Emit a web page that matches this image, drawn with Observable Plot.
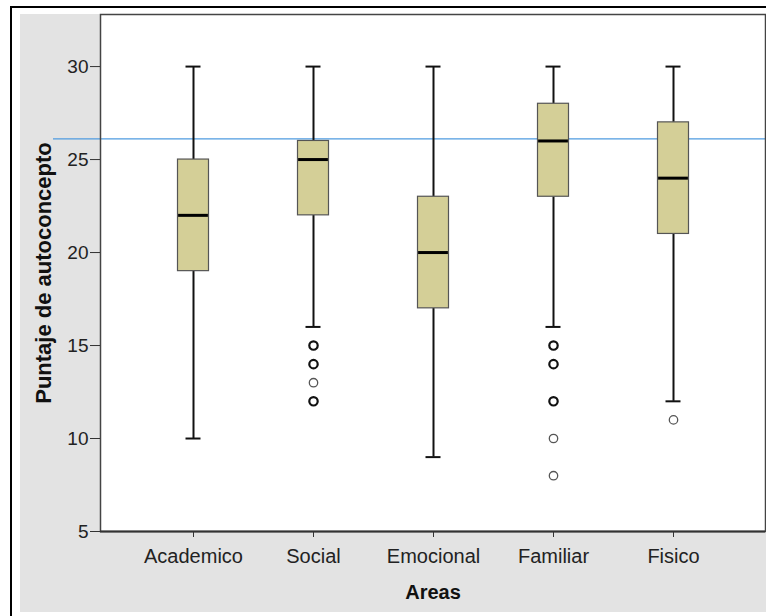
<!DOCTYPE html>
<html>
<head>
<meta charset="utf-8">
<script src="https://cdn.jsdelivr.net/npm/d3@7"></script>
<script src="https://cdn.jsdelivr.net/npm/@observablehq/plot@0.6"></script>
<style>
  html, body { margin: 0; padding: 0; background: #fff; }
  #wrap { position: relative; width: 766px; height: 616px; overflow: hidden; font-family: "Liberation Sans", Arial, sans-serif; }
  #outer { position: absolute; left: 10px; top: 6px; width: 770px; height: 620px; border-left: 2px solid #000; border-top: 2px solid #000; }
  #gray { position: absolute; left: 20px; top: 14px; right: 0; height: 598px; background: #e3e3e3; }
  #chart { position: absolute; left: 0; top: 0; }
</style>
</head>
<body>
<div id="wrap">
  <div id="outer"></div>
  <div id="gray"></div>
  <div id="chart"></div>
</div>
<script>
// Categories and summary statistics
const areas      = ["Academico", "Social", "Emocional", "Familiar", "Fisico"];
const whiskerLow = [10, 16, 9, 16, 12];
const q1         = [19, 22, 17, 23, 21];
const median     = [22, 25, 20, 26, 24];
const q3         = [25, 26, 23, 28, 27];
const whiskerHigh= [30, 30, 30, 30, 30];

// Outliers (bold = several cases at the same value)
const outlierArea  = ["Social", "Social", "Social", "Social",
                      "Familiar", "Familiar", "Familiar", "Familiar", "Familiar",
                      "Fisico"];
const outlierValue = [15, 14, 13, 12, 15, 14, 12, 10, 8, 11];
const outlierBold  = [true, true, false, true, true, true, true, false, false, false];

const referenceValue = 26.11;
const yTicks = [5, 10, 15, 20, 25, 30];

const boxes = areas.map((a, i) => ({
  area: a, lo: whiskerLow[i], q1: q1[i], med: median[i], q3: q3[i], hi: whiskerHigh[i]
}));
const outliers = outlierArea.map((a, i) => ({area: a, value: outlierValue[i], bold: outlierBold[i]}));

const W = 766, H = 616;
const mL = 100, mT = 14, mR = 1, mB = 85;
const bandW = 120, boxW = 31, capW = 15;
const boxInset = (bandW - boxW) / 2;
const capInset = (bandW - capW) / 2;

const chart = Plot.plot({
  width: W, height: H,
  marginLeft: mL, marginTop: mT, marginRight: mR, marginBottom: mB,
  style: {background: "transparent", fontFamily: "'Liberation Sans', Arial, sans-serif", color: "#222"},
  x: {type: "band", domain: areas, range: [133, 733], padding: 0},
  y: {domain: [5, 32.8]},
  marks: [
    Plot.frame({fill: "white", stroke: null}),
    Plot.ruleY([referenceValue], {stroke: "#4f9be0", strokeWidth: 1.4, insetLeft: -47, insetRight: -1}),
    // whiskers
    Plot.ruleX(boxes, {x: "area", y1: "lo", y2: "q1", stroke: "#111", strokeWidth: 2}),
    Plot.ruleX(boxes, {x: "area", y1: "q3", y2: "hi", stroke: "#111", strokeWidth: 2}),
    // caps
    Plot.tickY(boxes, {x: "area", y: "lo", stroke: "#111", strokeWidth: 2, insetLeft: capInset, insetRight: capInset}),
    Plot.tickY(boxes, {x: "area", y: "hi", stroke: "#111", strokeWidth: 2, insetLeft: capInset, insetRight: capInset}),
    // boxes
    Plot.barY(boxes, {x: "area", y1: "q1", y2: "q3", fill: "#d4cf97", stroke: "#555", strokeWidth: 1.2, insetLeft: boxInset, insetRight: boxInset}),
    // medians
    Plot.tickY(boxes, {x: "area", y: "med", stroke: "#000", strokeWidth: 3, insetLeft: boxInset + 0.6, insetRight: boxInset + 0.6}),
    // outliers
    Plot.dot(outliers.filter(d => d.bold), {x: "area", y: "value", r: 4.2, stroke: "#111", strokeWidth: 2.2, fill: "white"}),
    Plot.dot(outliers.filter(d => !d.bold), {x: "area", y: "value", r: 4.2, stroke: "#555", strokeWidth: 1.3, fill: "white"}),
    Plot.frame({stroke: "#444", strokeWidth: 1.5}),
    Plot.ruleY([5], {stroke: "#333", strokeWidth: 2}),
    Plot.axisY({ticks: yTicks, tickSize: 10, tickPadding: 2, fontSize: 19, stroke: "#333", label: null, tickFormat: d => String(d)}),
    Plot.axisX({tickSize: 6, tickPadding: 11, fontSize: 20, stroke: "#333", label: null}),
    Plot.text(["Areas"], {frameAnchor: "bottom", dy: 67, lineAnchor: "bottom", fontSize: 20, fontWeight: "bold", fill: "#111"}),
    Plot.text(["Puntaje de autoconcepto"], {frameAnchor: "left", dx: -57, rotate: -90, textAnchor: "middle", lineAnchor: "middle", fontSize: 22, fontWeight: "bold", fill: "#111"})
  ]
});
document.getElementById("chart").appendChild(chart);
</script>
</body>
</html>
